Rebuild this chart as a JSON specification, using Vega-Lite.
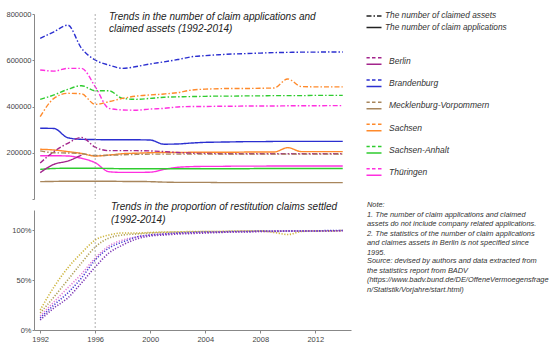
{
  "$schema": "https://vega.github.io/schema/vega-lite/v6.json",
  "background": "white",
  "padding": {"left": 5, "top": 10, "right": 0, "bottom": 5},
  "config": {
    "font": "Liberation Sans",
    "view": {"stroke": null},
    "axis": {"labelFont": "Liberation Sans", "labelFontSize": 7.5, "labelColor": "#444", "domainColor": "#888", "tickColor": "#888", "grid": false, "title": null, "tickSize": 3, "labelPadding": 1}
  },
  "resolve": {"scale": {"color": "independent", "strokeDash": "independent"}},
  "spacing": 1,
  "datasets": {
    "claims": [
      {"state": "Brandenburg", "year": 1992, "assets": 695000, "applications": 306000},
      {"state": "Brandenburg", "year": 1993, "assets": 723000, "applications": 305000},
      {"state": "Brandenburg", "year": 1994, "assets": 752000, "applications": 265000},
      {"state": "Brandenburg", "year": 1995, "assets": 652000, "applications": 258000},
      {"state": "Brandenburg", "year": 1996, "assets": 601000, "applications": 257000},
      {"state": "Brandenburg", "year": 1997, "assets": 579000, "applications": 256000},
      {"state": "Brandenburg", "year": 1998, "assets": 565000, "applications": 256000},
      {"state": "Brandenburg", "year": 1999, "assets": 573000, "applications": 256000},
      {"state": "Brandenburg", "year": 2000, "assets": 584000, "applications": 255000},
      {"state": "Brandenburg", "year": 2001, "assets": 593000, "applications": 237000},
      {"state": "Brandenburg", "year": 2002, "assets": 603000, "applications": 238000},
      {"state": "Brandenburg", "year": 2003, "assets": 615000, "applications": 242000},
      {"state": "Brandenburg", "year": 2004, "assets": 620000, "applications": 245000},
      {"state": "Brandenburg", "year": 2005, "assets": 624000, "applications": 246000},
      {"state": "Brandenburg", "year": 2006, "assets": 627000, "applications": 247000},
      {"state": "Brandenburg", "year": 2007, "assets": 629000, "applications": 248000},
      {"state": "Brandenburg", "year": 2008, "assets": 631000, "applications": 248000},
      {"state": "Brandenburg", "year": 2009, "assets": 633000, "applications": 249000},
      {"state": "Brandenburg", "year": 2010, "assets": 634000, "applications": 249000},
      {"state": "Brandenburg", "year": 2011, "assets": 635000, "applications": 249000},
      {"state": "Brandenburg", "year": 2012, "assets": 635000, "applications": 249000},
      {"state": "Brandenburg", "year": 2013, "assets": 636000, "applications": 249000},
      {"state": "Brandenburg", "year": 2014, "assets": 636000, "applications": 249000},
      {"state": "Thüringen", "year": 1992, "assets": 558000, "applications": 187000},
      {"state": "Thüringen", "year": 1993, "assets": 553000, "applications": 187000},
      {"state": "Thüringen", "year": 1994, "assets": 565000, "applications": 186000},
      {"state": "Thüringen", "year": 1995, "assets": 565000, "applications": 176000},
      {"state": "Thüringen", "year": 1996, "assets": 486000, "applications": 157000},
      {"state": "Thüringen", "year": 1997, "assets": 392000, "applications": 118000},
      {"state": "Thüringen", "year": 1998, "assets": 385000, "applications": 115000},
      {"state": "Thüringen", "year": 1999, "assets": 384000, "applications": 115000},
      {"state": "Thüringen", "year": 2000, "assets": 389000, "applications": 116000},
      {"state": "Thüringen", "year": 2001, "assets": 392000, "applications": 128000},
      {"state": "Thüringen", "year": 2002, "assets": 398000, "applications": 137000},
      {"state": "Thüringen", "year": 2003, "assets": 400000, "applications": 140000},
      {"state": "Thüringen", "year": 2004, "assets": 400000, "applications": 141000},
      {"state": "Thüringen", "year": 2005, "assets": 401000, "applications": 141000},
      {"state": "Thüringen", "year": 2006, "assets": 401000, "applications": 142000},
      {"state": "Thüringen", "year": 2007, "assets": 402000, "applications": 142000},
      {"state": "Thüringen", "year": 2008, "assets": 402000, "applications": 142000},
      {"state": "Thüringen", "year": 2009, "assets": 402000, "applications": 143000},
      {"state": "Thüringen", "year": 2010, "assets": 403000, "applications": 143000},
      {"state": "Thüringen", "year": 2011, "assets": 403000, "applications": 143000},
      {"state": "Thüringen", "year": 2012, "assets": 403000, "applications": 143000},
      {"state": "Thüringen", "year": 2013, "assets": 404000, "applications": 143000},
      {"state": "Thüringen", "year": 2014, "assets": 404000, "applications": 143000},
      {"state": "Sachsen-Anhalt", "year": 1992, "assets": 431000, "applications": 128000},
      {"state": "Sachsen-Anhalt", "year": 1993, "assets": 450000, "applications": 132000},
      {"state": "Sachsen-Anhalt", "year": 1994, "assets": 474000, "applications": 133000},
      {"state": "Sachsen-Anhalt", "year": 1995, "assets": 490000, "applications": 133000},
      {"state": "Sachsen-Anhalt", "year": 1996, "assets": 468000, "applications": 133000},
      {"state": "Sachsen-Anhalt", "year": 1997, "assets": 468000, "applications": 132000},
      {"state": "Sachsen-Anhalt", "year": 1998, "assets": 435000, "applications": 131000},
      {"state": "Sachsen-Anhalt", "year": 1999, "assets": 431000, "applications": 131000},
      {"state": "Sachsen-Anhalt", "year": 2000, "assets": 435000, "applications": 131000},
      {"state": "Sachsen-Anhalt", "year": 2001, "assets": 440000, "applications": 131000},
      {"state": "Sachsen-Anhalt", "year": 2002, "assets": 442000, "applications": 131000},
      {"state": "Sachsen-Anhalt", "year": 2003, "assets": 443000, "applications": 131000},
      {"state": "Sachsen-Anhalt", "year": 2004, "assets": 444000, "applications": 131000},
      {"state": "Sachsen-Anhalt", "year": 2005, "assets": 445000, "applications": 131000},
      {"state": "Sachsen-Anhalt", "year": 2006, "assets": 445000, "applications": 131000},
      {"state": "Sachsen-Anhalt", "year": 2007, "assets": 446000, "applications": 131000},
      {"state": "Sachsen-Anhalt", "year": 2008, "assets": 446000, "applications": 132000},
      {"state": "Sachsen-Anhalt", "year": 2009, "assets": 447000, "applications": 132000},
      {"state": "Sachsen-Anhalt", "year": 2010, "assets": 447000, "applications": 132000},
      {"state": "Sachsen-Anhalt", "year": 2011, "assets": 447000, "applications": 132000},
      {"state": "Sachsen-Anhalt", "year": 2012, "assets": 448000, "applications": 132000},
      {"state": "Sachsen-Anhalt", "year": 2013, "assets": 448000, "applications": 132000},
      {"state": "Sachsen-Anhalt", "year": 2014, "assets": 448000, "applications": 132000},
      {"state": "Sachsen", "year": 1992, "assets": 356000, "applications": 215000},
      {"state": "Sachsen", "year": 1993, "assets": 435000, "applications": 212000},
      {"state": "Sachsen", "year": 1994, "assets": 457000, "applications": 205000},
      {"state": "Sachsen", "year": 1995, "assets": 455000, "applications": 197000},
      {"state": "Sachsen", "year": 1996, "assets": 409000, "applications": 186000},
      {"state": "Sachsen", "year": 1997, "assets": 421000, "applications": 190000},
      {"state": "Sachsen", "year": 1998, "assets": 435000, "applications": 196000},
      {"state": "Sachsen", "year": 1999, "assets": 445000, "applications": 198000},
      {"state": "Sachsen", "year": 2000, "assets": 450000, "applications": 200000},
      {"state": "Sachsen", "year": 2001, "assets": 454000, "applications": 201000},
      {"state": "Sachsen", "year": 2002, "assets": 460000, "applications": 201000},
      {"state": "Sachsen", "year": 2003, "assets": 471000, "applications": 202000},
      {"state": "Sachsen", "year": 2004, "assets": 475000, "applications": 202000},
      {"state": "Sachsen", "year": 2005, "assets": 477000, "applications": 202000},
      {"state": "Sachsen", "year": 2006, "assets": 478000, "applications": 202000},
      {"state": "Sachsen", "year": 2007, "assets": 478000, "applications": 203000},
      {"state": "Sachsen", "year": 2008, "assets": 479000, "applications": 203000},
      {"state": "Sachsen", "year": 2009, "assets": 480000, "applications": 203000},
      {"state": "Sachsen", "year": 2010, "assets": 519000, "applications": 222000},
      {"state": "Sachsen", "year": 2011, "assets": 486000, "applications": 205000},
      {"state": "Sachsen", "year": 2012, "assets": 485000, "applications": 205000},
      {"state": "Sachsen", "year": 2013, "assets": 485000, "applications": 205000},
      {"state": "Sachsen", "year": 2014, "assets": 485000, "applications": 205000},
      {"state": "Berlin", "year": 1992, "assets": 156000, "applications": 114000},
      {"state": "Berlin", "year": 1993, "assets": 205000, "applications": 150000},
      {"state": "Berlin", "year": 1994, "assets": 241000, "applications": 164000},
      {"state": "Berlin", "year": 1995, "assets": 266000, "applications": 190000},
      {"state": "Berlin", "year": 1996, "assets": 224000, "applications": null},
      {"state": "Berlin", "year": 1997, "assets": 209000, "applications": null},
      {"state": "Berlin", "year": 1998, "assets": 209000, "applications": null},
      {"state": "Berlin", "year": 1999, "assets": 209000, "applications": null},
      {"state": "Berlin", "year": 2000, "assets": 208000, "applications": null},
      {"state": "Berlin", "year": 2001, "assets": 205000, "applications": null},
      {"state": "Berlin", "year": 2002, "assets": 201000, "applications": null},
      {"state": "Berlin", "year": 2003, "assets": 198000, "applications": null},
      {"state": "Berlin", "year": 2004, "assets": 197000, "applications": null},
      {"state": "Berlin", "year": 2005, "assets": 196000, "applications": null},
      {"state": "Berlin", "year": 2006, "assets": 196000, "applications": null},
      {"state": "Berlin", "year": 2007, "assets": 196000, "applications": null},
      {"state": "Berlin", "year": 2008, "assets": 196000, "applications": null},
      {"state": "Berlin", "year": 2009, "assets": 196000, "applications": null},
      {"state": "Berlin", "year": 2010, "assets": 196000, "applications": null},
      {"state": "Berlin", "year": 2011, "assets": 196000, "applications": null},
      {"state": "Berlin", "year": 2012, "assets": 196000, "applications": null},
      {"state": "Berlin", "year": 2013, "assets": 196000, "applications": null},
      {"state": "Berlin", "year": 2014, "assets": 196000, "applications": null},
      {"state": "Mecklenburg-Vorpommern", "year": 1992, "assets": 208000, "applications": 75000},
      {"state": "Mecklenburg-Vorpommern", "year": 1993, "assets": 200000, "applications": 76000},
      {"state": "Mecklenburg-Vorpommern", "year": 1994, "assets": 199000, "applications": 77000},
      {"state": "Mecklenburg-Vorpommern", "year": 1995, "assets": 196000, "applications": 77000},
      {"state": "Mecklenburg-Vorpommern", "year": 1996, "assets": 188000, "applications": 77000},
      {"state": "Mecklenburg-Vorpommern", "year": 1997, "assets": 189000, "applications": 77000},
      {"state": "Mecklenburg-Vorpommern", "year": 1998, "assets": 191000, "applications": 76000},
      {"state": "Mecklenburg-Vorpommern", "year": 1999, "assets": 193000, "applications": 76000},
      {"state": "Mecklenburg-Vorpommern", "year": 2000, "assets": 194000, "applications": 75000},
      {"state": "Mecklenburg-Vorpommern", "year": 2001, "assets": 194000, "applications": 73000},
      {"state": "Mecklenburg-Vorpommern", "year": 2002, "assets": 194000, "applications": 72000},
      {"state": "Mecklenburg-Vorpommern", "year": 2003, "assets": 194000, "applications": 72000},
      {"state": "Mecklenburg-Vorpommern", "year": 2004, "assets": 194000, "applications": 72000},
      {"state": "Mecklenburg-Vorpommern", "year": 2005, "assets": 194000, "applications": 71000},
      {"state": "Mecklenburg-Vorpommern", "year": 2006, "assets": 194000, "applications": 71000},
      {"state": "Mecklenburg-Vorpommern", "year": 2007, "assets": 194000, "applications": 71000},
      {"state": "Mecklenburg-Vorpommern", "year": 2008, "assets": 194000, "applications": 71000},
      {"state": "Mecklenburg-Vorpommern", "year": 2009, "assets": 194000, "applications": 71000},
      {"state": "Mecklenburg-Vorpommern", "year": 2010, "assets": 194000, "applications": 71000},
      {"state": "Mecklenburg-Vorpommern", "year": 2011, "assets": 194000, "applications": 71000},
      {"state": "Mecklenburg-Vorpommern", "year": 2012, "assets": 194000, "applications": 71000},
      {"state": "Mecklenburg-Vorpommern", "year": 2013, "assets": 194000, "applications": 71000},
      {"state": "Mecklenburg-Vorpommern", "year": 2014, "assets": 194000, "applications": 71000}
    ],
    "settled": [
      {"year": 1992, "Sachsen": 0.20, "Mecklenburg-Vorpommern": 0.17, "Thüringen": 0.14, "Brandenburg": 0.12, "Sachsen-Anhalt": 0.10},
      {"year": 1993, "Sachsen": 0.43, "Mecklenburg-Vorpommern": 0.33, "Thüringen": 0.28, "Brandenburg": 0.25, "Sachsen-Anhalt": 0.22},
      {"year": 1994, "Sachsen": 0.62, "Mecklenburg-Vorpommern": 0.50, "Thüringen": 0.42, "Brandenburg": 0.37, "Sachsen-Anhalt": 0.32},
      {"year": 1995, "Sachsen": 0.77, "Mecklenburg-Vorpommern": 0.67, "Thüringen": 0.56, "Brandenburg": 0.52, "Sachsen-Anhalt": 0.47},
      {"year": 1996, "Sachsen": 0.90, "Mecklenburg-Vorpommern": 0.83, "Thüringen": 0.72, "Brandenburg": 0.70, "Sachsen-Anhalt": 0.63},
      {"year": 1997, "Sachsen": 0.95, "Mecklenburg-Vorpommern": 0.92, "Thüringen": 0.84, "Brandenburg": 0.82, "Sachsen-Anhalt": 0.77},
      {"year": 1998, "Sachsen": 0.97, "Mecklenburg-Vorpommern": 0.95, "Thüringen": 0.90, "Brandenburg": 0.88, "Sachsen-Anhalt": 0.85},
      {"year": 1999, "Sachsen": 0.97, "Mecklenburg-Vorpommern": 0.96, "Thüringen": 0.93, "Brandenburg": 0.93, "Sachsen-Anhalt": 0.91},
      {"year": 2000, "Sachsen": 0.975, "Mecklenburg-Vorpommern": 0.97, "Thüringen": 0.95, "Brandenburg": 0.95, "Sachsen-Anhalt": 0.94},
      {"year": 2001, "Sachsen": 0.98, "Mecklenburg-Vorpommern": 0.975, "Thüringen": 0.96, "Brandenburg": 0.96, "Sachsen-Anhalt": 0.95},
      {"year": 2002, "Sachsen": 0.98, "Mecklenburg-Vorpommern": 0.98, "Thüringen": 0.965, "Brandenburg": 0.97, "Sachsen-Anhalt": 0.96},
      {"year": 2003, "Sachsen": 0.985, "Mecklenburg-Vorpommern": 0.98, "Thüringen": 0.97, "Brandenburg": 0.975, "Sachsen-Anhalt": 0.965},
      {"year": 2004, "Sachsen": 0.985, "Mecklenburg-Vorpommern": 0.985, "Thüringen": 0.975, "Brandenburg": 0.98, "Sachsen-Anhalt": 0.97},
      {"year": 2005, "Sachsen": 0.985, "Mecklenburg-Vorpommern": 0.985, "Thüringen": 0.98, "Brandenburg": 0.98, "Sachsen-Anhalt": 0.975},
      {"year": 2006, "Sachsen": 0.99, "Mecklenburg-Vorpommern": 0.985, "Thüringen": 0.98, "Brandenburg": 0.985, "Sachsen-Anhalt": 0.98},
      {"year": 2007, "Sachsen": 0.99, "Mecklenburg-Vorpommern": 0.99, "Thüringen": 0.985, "Brandenburg": 0.985, "Sachsen-Anhalt": 0.98},
      {"year": 2008, "Sachsen": 0.99, "Mecklenburg-Vorpommern": 0.99, "Thüringen": 0.985, "Brandenburg": 0.99, "Sachsen-Anhalt": 0.985},
      {"year": 2009, "Sachsen": 0.975, "Mecklenburg-Vorpommern": 0.99, "Thüringen": 0.99, "Brandenburg": 0.99, "Sachsen-Anhalt": 0.985},
      {"year": 2010, "Sachsen": 0.955, "Mecklenburg-Vorpommern": 0.99, "Thüringen": 0.99, "Brandenburg": 0.99, "Sachsen-Anhalt": 0.99},
      {"year": 2011, "Sachsen": 0.985, "Mecklenburg-Vorpommern": 0.99, "Thüringen": 0.99, "Brandenburg": 0.99, "Sachsen-Anhalt": 0.99},
      {"year": 2012, "Sachsen": 0.99, "Mecklenburg-Vorpommern": 0.99, "Thüringen": 0.99, "Brandenburg": 0.99, "Sachsen-Anhalt": 0.99},
      {"year": 2013, "Sachsen": 0.99, "Mecklenburg-Vorpommern": 0.99, "Thüringen": 0.99, "Brandenburg": 0.995, "Sachsen-Anhalt": 0.99},
      {"year": 2014, "Sachsen": 0.995, "Mecklenburg-Vorpommern": 0.995, "Thüringen": 0.99, "Brandenburg": 0.995, "Sachsen-Anhalt": 0.995}
    ],
    "marker": [{"year": 1996}]
  },
  "vconcat": [
    {
      "width": 317,
      "height": 185,
      "title": {
        "text": ["Trends in the number of claim applications and", "claimed assets (1992-2014)"],
        "anchor": "start", "frame": "group", "dx": 75, "offset": -24,
        "font": "Liberation Sans", "fontSize": 10, "fontStyle": "italic", "fontWeight": "normal", "color": "#222", "lineHeight": 12.5
      },
      "layer": [
        {
          "data": {"name": "claims"},
          "transform": [{"fold": ["assets", "applications"], "as": ["type", "value"]}],
          "mark": {"type": "line", "interpolate": "monotone", "strokeWidth": 1.4},
          "encoding": {
            "x": {"field": "year", "type": "quantitative", "scale": {"domain": [1991.55, 2014.6], "nice": false, "zero": false}, "axis": null},
            "y": {"field": "value", "type": "quantitative", "scale": {"domain": [0, 800000], "nice": false},
              "axis": {"values": [0, 200000, 400000, 600000, 800000], "format": "d", "labelExpr": "datum.value == 0 ? '' : datum.label", "minExtent": 28, "maxExtent": 28, "tickSize": 2}},
            "color": {"field": "state", "type": "nominal",
              "scale": {"domain": ["Berlin", "Brandenburg", "Mecklenburg-Vorpommern", "Sachsen", "Sachsen-Anhalt", "Thüringen"],
                "range": ["#a3258c", "#2b2fd0", "#a8865c", "#ff8a2b", "#2fcc2f", "#ff2fe0"]},
              "legend": {"title": null, "orient": "none", "legendX": 334, "legendY": 41, "padding": 0,
                "labelFont": "Liberation Sans", "labelFontSize": 8.5, "labelFontStyle": "italic", "labelColor": "#333",
                "symbolType": "M-1.5,-0.65H-0.85M-0.4,-0.65H0.3M0.8,-0.65H1.5M-1.5,0.65H1.5", "symbolSize": 100, "symbolStrokeWidth": 1.5,
                "symbolFillColor": "transparent", "rowPadding": 8.2, "labelOffset": 9}},
            "strokeDash": {"field": "type", "type": "nominal",
              "scale": {"domain": ["assets", "applications"], "range": [[5, 2, 1.5, 2], [1, 0]]},
              "legend": {"title": null, "orient": "none", "legendX": 334, "legendY": -4, "padding": 0,
                "labelExpr": "datum.label == 'assets' ? 'The number of claimed assets' : 'The number of claim applications'",
                "labelFont": "Liberation Sans", "labelFontSize": 8.3, "labelFontStyle": "italic", "labelColor": "#333",
                "symbolType": "M-1.5,0H1.5", "symbolSize": 100, "symbolStrokeWidth": 1.5, "symbolStrokeColor": "#222", "symbolFillColor": "transparent", "rowPadding": 1.6, "labelOffset": 5}}
          }
        },
        {
          "data": {"name": "marker"},
          "mark": {"type": "rule", "strokeDash": [2, 2], "color": "#999", "strokeWidth": 0.8},
          "encoding": {"x": {"field": "year", "type": "quantitative"}}
        }
      ]
    },
    {
      "spacing": 16,
      "hconcat": [
        {
          "width": 317,
          "height": 120,
          "title": {
            "text": ["Trends in the proportion of restitution claims settled", "(1992-2014)"],
            "anchor": "start", "frame": "group", "dx": 77, "offset": -15,
            "font": "Liberation Sans", "fontSize": 10, "fontStyle": "italic", "fontWeight": "normal", "color": "#222", "lineHeight": 12.5
          },
          "layer": [
            {
              "data": {"name": "settled"},
              "transform": [{"fold": ["Sachsen", "Mecklenburg-Vorpommern", "Thüringen", "Brandenburg", "Sachsen-Anhalt"], "as": ["state", "share"]}],
              "mark": {"type": "line", "interpolate": "monotone", "strokeWidth": 1.6, "strokeDash": [1.2, 1.6]},
              "encoding": {
                "x": {"field": "year", "type": "quantitative", "scale": {"domain": [1991.55, 2014.6], "nice": false, "zero": false},
                  "axis": {"values": [1992, 1996, 2000, 2004, 2008, 2012], "format": "d", "labelPadding": 2}},
                "y": {"field": "share", "type": "quantitative", "scale": {"domain": [0, 1.2], "nice": false},
                  "axis": {"values": [0, 0.5, 1], "format": ".0%", "minExtent": 28, "maxExtent": 28, "tickSize": 2}},
                "color": {"field": "state", "type": "nominal",
                  "scale": {"domain": ["Sachsen", "Mecklenburg-Vorpommern", "Thüringen", "Brandenburg", "Sachsen-Anhalt"],
                    "range": ["#cdb43a", "#b09f55", "#e27fd8", "#4b3fd3", "#7b34b5"]},
                  "legend": null}
              }
            },
            {
              "data": {"name": "marker"},
              "mark": {"type": "rule", "strokeDash": [2, 2], "color": "#999", "strokeWidth": 0.8},
              "encoding": {"x": {"field": "year", "type": "quantitative"}}
            }
          ]
        },
        {
          "width": 170,
          "height": 1,
          "data": {"values": []},
          "mark": {"type": "text"},
          "title": {
            "text": ["Note:", "1. The number of claim applications and claimed", "assets do not include company related applications.", "2. The statistics of the number of claim applications", "and claimes assets in Berlin is not specified since", "1995."],
            "subtitle": ["Source:  devised by authors and data extracted from", "the statistics report from BADV", "(https://www.badv.bund.de/DE/OffeneVermoegensfrage", "n/Statistik/Vorjahre/start.html)"],
            "orient": "bottom", "anchor": "start", "frame": "group", "offset": -10,
            "font": "Liberation Sans", "fontSize": 7.4, "fontStyle": "italic", "fontWeight": "normal", "color": "#333", "lineHeight": 9.5,
            "subtitleFont": "Liberation Sans", "subtitleFontSize": 7.4, "subtitleFontStyle": "italic", "subtitleColor": "#333", "subtitleLineHeight": 9.5, "subtitlePadding": 1.5
          }
        }
      ]
    }
  ]
}
